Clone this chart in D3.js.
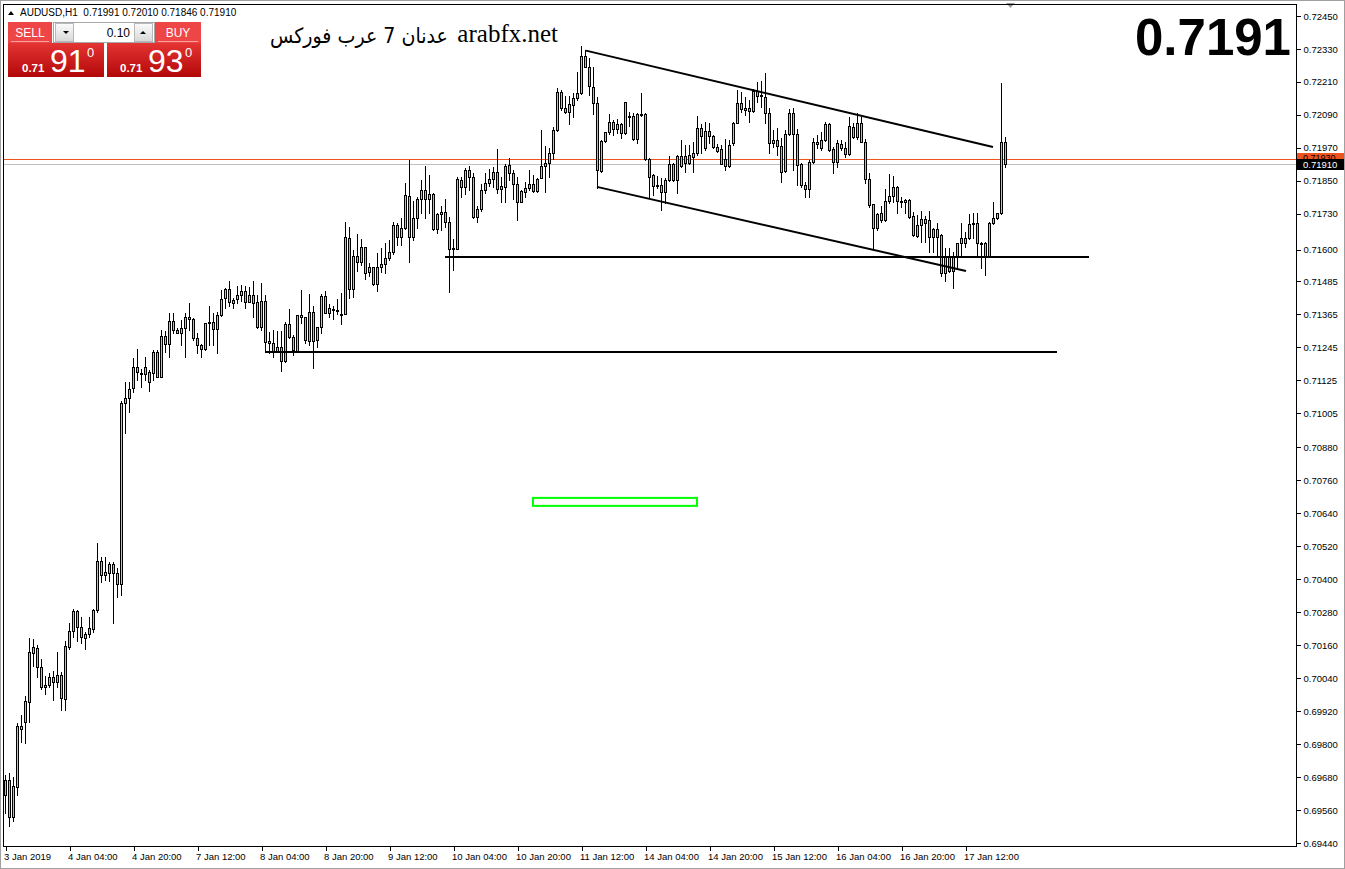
<!DOCTYPE html>
<html><head><meta charset="utf-8">
<script src="https://cdn.jsdelivr.net/npm/d3@7"></script>
<style>body{margin:0;background:#fff;overflow:hidden}svg{display:block}</style>
</head><body><svg id="c" width="1345" height="869"></svg>
<script>
// ---- DATA (AUDUSD H1, bars indexed from 3 Jan 2019 12:00) ----
const opens = [0.69614,0.69669,0.69534,0.69644,0.69855,0.69880,0.69953,0.70131,0.70150,0.70080,
0.70015,0.70015,0.70044,0.70026,0.70051,0.69964,0.70153,0.70211,0.70284,0.70226,
0.70186,0.70200,0.70219,0.70288,0.70466,0.70415,0.70423,0.70455,0.70423,0.70382,
0.71041,0.71060,0.71096,0.71172,0.71151,0.71147,0.71118,0.71151,0.71227,0.71136,
0.71285,0.71256,0.71340,0.71307,0.71296,0.71314,0.71354,0.71347,0.71278,0.71252,
0.71238,0.71333,0.71336,0.71311,0.71362,0.71424,0.71456,0.71405,0.71420,0.71434,
0.71449,0.71409,0.71434,0.71409,0.71318,0.71413,0.71267,0.71260,0.71227,0.71245,
0.71194,0.71329,0.71282,0.71231,0.71354,0.71354,0.71267,0.71373,0.71271,0.71318,
0.71431,0.71369,0.71380,0.71380,0.71365,0.71365,0.71642,0.71456,0.71576,0.71555,
0.71609,0.71518,0.71536,0.71474,0.71536,0.71547,0.71569,0.71591,0.71689,0.71646,
0.71678,0.71795,0.71646,0.71715,0.71784,0.71817,0.71784,0.71802,0.71675,0.71729,
0.71737,0.71700,0.71602,0.71602,0.71853,0.71828,0.71889,0.71864,0.71718,0.71747,
0.71817,0.71842,0.71857,0.71882,0.71820,0.71828,0.71908,0.71879,0.71838,0.71773,
0.71809,0.71824,0.71838,0.71813,0.71860,0.71904,0.71915,0.71951,0.72035,0.72173,
0.72115,0.72101,0.72126,0.72152,0.72170,0.72304,0.72264,0.72192,0.72133,0.71886,
0.71995,0.72028,0.72064,0.72039,0.72057,0.72024,0.72082,0.72086,0.72002,0.72093,
0.72093,0.71929,0.71871,0.71835,0.71835,0.71809,0.71853,0.71911,0.71853,0.71904,
0.71940,0.71915,0.71937,0.71951,0.72042,0.71970,0.72031,0.72013,0.71973,0.71966,
0.71929,0.71904,0.71988,0.72061,0.72133,0.72108,0.72115,0.72104,0.72177,0.72162,
0.72155,0.72097,0.71988,0.71999,0.71977,0.71886,0.72020,0.72097,0.72020,0.71911,
0.71835,0.71820,0.71919,0.71984,0.71970,0.71999,0.72057,0.71966,0.71919,0.71984,
0.71970,0.71948,0.72046,0.72010,0.72060,0.71991,0.71857,0.71766,0.71678,0.71733,
0.71707,0.71777,0.71795,0.71828,0.71777,0.71773,0.71780,0.71722,0.71649,0.71689,
0.71711,0.71707,0.71646,0.71675,0.71653,0.71515,0.71573,0.71522,0.71573,0.71624,
0.71624,0.71642,0.71693,0.71697,0.71624,0.71624,0.71573,0.71697,0.71715,0.71733,
0.71991];
const highs = [0.69687,0.69694,0.69680,0.69877,0.69906,0.69975,0.70186,0.70182,0.70160,0.70109,
0.70048,0.70059,0.70066,0.70135,0.70062,0.70175,0.70241,0.70291,0.70288,0.70262,
0.70208,0.70262,0.70291,0.70532,0.70481,0.70481,0.70463,0.70463,0.70441,0.71049,
0.71118,0.71118,0.71205,0.71238,0.71165,0.71209,0.71161,0.71234,0.71234,0.71307,
0.71303,0.71369,0.71369,0.71314,0.71343,0.71369,0.71405,0.71351,0.71296,0.71256,
0.71333,0.71394,0.71369,0.71373,0.71453,0.71460,0.71485,0.71424,0.71467,0.71471,
0.71467,0.71464,0.71485,0.71434,0.71478,0.71434,0.71300,0.71307,0.71303,0.71303,
0.71336,0.71383,0.71289,0.71362,0.71453,0.71354,0.71438,0.71394,0.71318,0.71438,
0.71449,0.71402,0.71394,0.71420,0.71442,0.71700,0.71682,0.71598,0.71656,0.71638,
0.71609,0.71551,0.71536,0.71587,0.71606,0.71624,0.71635,0.71700,0.71697,0.71715,
0.71842,0.71926,0.71777,0.71791,0.71853,0.71904,0.71871,0.71806,0.71733,0.71758,
0.71784,0.71718,0.71638,0.71864,0.71864,0.71897,0.71904,0.71879,0.71758,0.71838,
0.71879,0.71893,0.71900,0.71966,0.71864,0.71911,0.71933,0.71889,0.71864,0.71817,
0.71846,0.71889,0.71871,0.71860,0.72035,0.71977,0.71970,0.72046,0.72188,0.72181,
0.72159,0.72159,0.72170,0.72246,0.72341,0.72326,0.72297,0.72264,0.72155,0.71999,
0.72028,0.72093,0.72071,0.72075,0.72060,0.72137,0.72101,0.72097,0.72097,0.72170,
0.72097,0.71933,0.71875,0.71868,0.71860,0.71860,0.71940,0.71915,0.71944,0.71999,
0.71980,0.71980,0.71991,0.72086,0.72057,0.72064,0.72060,0.72017,0.71984,0.71980,
0.72002,0.71999,0.72064,0.72181,0.72173,0.72155,0.72144,0.72184,0.72210,0.72213,
0.72243,0.72115,0.72035,0.72042,0.72006,0.72035,0.72111,0.72115,0.72039,0.71915,
0.71846,0.71926,0.72006,0.72017,0.72028,0.72064,0.72060,0.71973,0.71999,0.71999,
0.71991,0.72082,0.72060,0.72097,0.72082,0.72002,0.71879,0.71766,0.71733,0.71758,
0.71820,0.71875,0.71868,0.71831,0.71791,0.71784,0.71784,0.71737,0.71726,0.71740,
0.71722,0.71740,0.71678,0.71697,0.71656,0.71606,0.71606,0.71591,0.71624,0.71697,
0.71664,0.71729,0.71733,0.71733,0.71627,0.71627,0.71700,0.71773,0.71733,0.72206,
0.72010];
const lows = [0.69549,0.69502,0.69520,0.69614,0.69807,0.69804,0.69880,0.70084,0.70044,0.70000,
0.69982,0.70008,0.69960,0.70008,0.69924,0.69924,0.70146,0.70190,0.70175,0.70168,
0.70146,0.70190,0.70208,0.70281,0.70390,0.70397,0.70393,0.70241,0.70335,0.70342,
0.70932,0.71009,0.71081,0.71125,0.71100,0.71125,0.71085,0.71125,0.71136,0.71136,
0.71227,0.71209,0.71296,0.71296,0.71252,0.71209,0.71307,0.71271,0.71223,0.71209,
0.71234,0.71252,0.71252,0.71223,0.71358,0.71387,0.71394,0.71387,0.71405,0.71413,
0.71387,0.71409,0.71354,0.71314,0.71307,0.71227,0.71223,0.71209,0.71227,0.71158,
0.71191,0.71278,0.71216,0.71227,0.71333,0.71260,0.71252,0.71169,0.71245,0.71296,
0.71369,0.71354,0.71347,0.71365,0.71329,0.71365,0.71424,0.71427,0.71522,0.71544,
0.71493,0.71504,0.71471,0.71449,0.71518,0.71515,0.71562,0.71584,0.71616,0.71616,
0.71675,0.71555,0.71635,0.71678,0.71733,0.71715,0.71733,0.71671,0.71660,0.71671,
0.71682,0.71445,0.71525,0.71602,0.71791,0.71802,0.71817,0.71715,0.71700,0.71740,
0.71806,0.71831,0.71828,0.71806,0.71773,0.71773,0.71853,0.71784,0.71707,0.71773,
0.71791,0.71817,0.71809,0.71809,0.71860,0.71809,0.71864,0.71929,0.72031,0.72108,
0.72097,0.72057,0.72082,0.72144,0.72166,0.72264,0.72162,0.72093,0.71824,0.71882,
0.71991,0.72020,0.72017,0.72024,0.72006,0.72020,0.72050,0.71999,0.71988,0.72086,
0.71926,0.71791,0.71798,0.71824,0.71744,0.71769,0.71849,0.71849,0.71806,0.71900,
0.71882,0.71911,0.71882,0.71944,0.71951,0.71962,0.71988,0.71970,0.71955,0.71911,
0.71889,0.71900,0.71980,0.72061,0.72101,0.72090,0.72064,0.72101,0.72137,0.72119,
0.72060,0.71951,0.71973,0.71944,0.71846,0.71882,0.72017,0.71889,0.71835,0.71828,
0.71791,0.71791,0.71915,0.71970,0.71962,0.71995,0.71959,0.71879,0.71900,0.71962,
0.71937,0.71944,0.72006,0.72002,0.71991,0.71842,0.71755,0.71606,0.71671,0.71700,
0.71704,0.71769,0.71773,0.71733,0.71755,0.71733,0.71715,0.71649,0.71646,0.71627,
0.71627,0.71591,0.71591,0.71573,0.71504,0.71485,0.71518,0.71460,0.71536,0.71573,
0.71609,0.71638,0.71642,0.71573,0.71533,0.71507,0.71573,0.71693,0.71711,0.71729,
0.71900];
const closes = [0.69669,0.69534,0.69647,0.69866,0.69866,0.69957,0.70135,0.70153,0.70080,0.70008,
0.70008,0.70044,0.70026,0.70051,0.69968,0.70157,0.70211,0.70284,0.70226,0.70190,
0.70200,0.70222,0.70288,0.70466,0.70415,0.70426,0.70455,0.70423,0.70382,0.71041,
0.71060,0.71092,0.71172,0.71154,0.71147,0.71172,0.71154,0.71227,0.71136,0.71285,
0.71256,0.71340,0.71307,0.71296,0.71314,0.71354,0.71347,0.71278,0.71252,0.71238,
0.71333,0.71336,0.71311,0.71362,0.71420,0.71456,0.71409,0.71416,0.71434,0.71449,
0.71409,0.71434,0.71405,0.71318,0.71413,0.71263,0.71260,0.71227,0.71245,0.71194,
0.71329,0.71282,0.71234,0.71362,0.71362,0.71271,0.71373,0.71267,0.71318,0.71431,
0.71369,0.71387,0.71383,0.71376,0.71362,0.71646,0.71456,0.71576,0.71555,0.71609,
0.71515,0.71536,0.71474,0.71536,0.71547,0.71569,0.71591,0.71689,0.71646,0.71678,
0.71798,0.71646,0.71715,0.71784,0.71817,0.71784,0.71802,0.71675,0.71729,0.71737,
0.71700,0.71602,0.71606,0.71857,0.71828,0.71889,0.71864,0.71718,0.71747,0.71817,
0.71842,0.71857,0.71882,0.71820,0.71831,0.71904,0.71879,0.71838,0.71773,0.71813,
0.71824,0.71838,0.71813,0.71857,0.71904,0.71915,0.71951,0.72035,0.72173,0.72115,
0.72101,0.72130,0.72152,0.72170,0.72304,0.72264,0.72195,0.72133,0.71889,0.71995,
0.72028,0.72064,0.72039,0.72057,0.72024,0.72137,0.72086,0.72002,0.72093,0.72090,
0.71929,0.71864,0.71831,0.71831,0.71809,0.71853,0.71911,0.71853,0.71940,0.71940,
0.71915,0.71944,0.71951,0.72042,0.72013,0.72031,0.72013,0.71973,0.71959,0.71911,
0.71904,0.71980,0.72061,0.72133,0.72111,0.72115,0.72104,0.72177,0.72159,0.72159,
0.72097,0.71988,0.71999,0.71977,0.71882,0.72020,0.72097,0.72020,0.71908,0.71835,
0.71820,0.71919,0.71991,0.71991,0.71999,0.72057,0.71962,0.71919,0.71988,0.71970,
0.71948,0.72050,0.72010,0.72060,0.71991,0.71857,0.71762,0.71678,0.71729,0.71707,
0.71777,0.71795,0.71828,0.71777,0.71773,0.71780,0.71718,0.71653,0.71689,0.71711,
0.71697,0.71646,0.71675,0.71646,0.71515,0.71573,0.71522,0.71573,0.71624,0.71642,
0.71642,0.71693,0.71697,0.71624,0.71620,0.71573,0.71697,0.71715,0.71733,0.71991,
0.71910];

const priceTicks = [0.72450,0.72330,0.72210,0.72090,0.71970,0.71850,0.71730,0.71600,0.71485,0.71365,
0.71245,0.71125,0.71005,0.70880,0.70760,0.70640,0.70520,0.70400,0.70280,0.70160,0.70040,0.69920,
0.69800,0.69680,0.69560,0.69440];
const timeTickBars = [0,16,32,48,64,80,96,112,128,144,160,176,192,208,224,240];
const timeTickLabels = ["3 Jan 2019","4 Jan 04:00","4 Jan 20:00","7 Jan 12:00","8 Jan 04:00","8 Jan 20:00",
"9 Jan 12:00","10 Jan 04:00","10 Jan 20:00","11 Jan 12:00","14 Jan 04:00","14 Jan 20:00","15 Jan 12:00",
"16 Jan 04:00","16 Jan 20:00","17 Jan 12:00"];
// drawn objects: [barFrom, priceFrom, barTo, priceTo]
const supportLines = [[110,0.71573,271,0.71573],[65,0.71226,263,0.71226]];
const channelLines = [[145.25,0.72324,247,0.71973],[148,0.71828,240.25,0.71522]];
const zoneRect = [132,0.70696,173,0.70667];
const askPrice = 0.71930, bidPrice = 0.71910;
const headerText = "AUDUSD,H1  0.71991 0.72010 0.71846 0.71910";

// ---- DRAW ----
const svg = d3.select('#c');
const PL=4, PR=1296, PT=4, PB=846;
const x = d3.scaleLinear().domain([0,250]).range([5,1005]);
const y = d3.scaleLinear().domain([0.69440,0.72450]).range([843,16]);
const BULL='#87CEFA', BEAR='#FFA07A';
const tf = 'Liberation Sans, Arial, sans-serif';

const defs = svg.append('defs');
defs.append('clipPath').attr('id','plot').append('rect').attr('x',PL).attr('y',PT).attr('width',PR-PL).attr('height',PB-PT);
const gr = defs.append('linearGradient').attr('id','redg').attr('x1',0).attr('y1',0).attr('x2',0).attr('y2',1);
gr.append('stop').attr('offset','0%').attr('stop-color','#e43434');
gr.append('stop').attr('offset','100%').attr('stop-color','#b30808');
const gb = defs.append('linearGradient').attr('id','btng').attr('x1',0).attr('y1',0).attr('x2',0).attr('y2',1);
gb.append('stop').attr('offset','0%').attr('stop-color','#fbfbfb');
gb.append('stop').attr('offset','100%').attr('stop-color','#d8d8d8');
defs.append('clipPath').attr('id','askclip').append('rect').attr('x',PR+1).attr('y',0).attr('width',60).attr('height',Math.round(y(bidPrice))-5);

svg.append('rect').attr('width',1345).attr('height',869).attr('fill','#fff');
svg.append('rect').attr('x',0.5).attr('y',0.5).attr('width',1344).attr('height',868).attr('fill','none').attr('stroke','#a0a0a0');
svg.append('path').attr('d','M1006,3 L1015,3 L1010.5,8 Z').attr('fill','#9a9a9a');

const plot = svg.append('g').attr('clip-path','url(#plot)').attr('shape-rendering','crispEdges');
plot.append('line').attr('x1',PL).attr('x2',PR).attr('y1',Math.round(y(bidPrice))+0.5).attr('y2',Math.round(y(bidPrice))+0.5).attr('stroke','#c0c0c0');
plot.append('line').attr('x1',PL).attr('x2',PR).attr('y1',Math.round(y(askPrice))+0.5).attr('y2',Math.round(y(askPrice))+0.5).attr('stroke','#f0541e');

const bars = opens.map((o,i)=>({i,o,h:highs[i],l:lows[i],c:closes[i]}));
const cg = plot.append('g');
cg.selectAll('rect.wick').data(bars).join('rect').attr('class','wick')
  .attr('x',d=>Math.round(x(d.i)))
  .attr('y',d=>Math.round(y(d.h)))
  .attr('width',1)
  .attr('height',d=>Math.round(y(d.l))-Math.round(y(d.h))+1)
  .attr('fill','#000');
cg.selectAll('rect.body').data(bars).join('rect').attr('class','body')
  .attr('x',d=>Math.round(x(d.i))-0.5)
  .attr('y',d=>Math.round(y(Math.max(d.o,d.c)))+0.5)
  .attr('width',2)
  .attr('height',d=>Math.max(1,Math.round(y(Math.min(d.o,d.c)))-Math.round(y(Math.max(d.o,d.c)))))
  .attr('fill',d=>d.c>=d.o?BULL:BEAR)
  .attr('stroke','#000').attr('stroke-width',1);

const lg = svg.append('g').attr('clip-path','url(#plot)');
lg.selectAll('line.sup').data(supportLines).join('line').attr('class','sup')
  .attr('x1',d=>x(d[0])).attr('x2',d=>x(d[2])).attr('y1',d=>Math.round(y(d[1]))).attr('y2',d=>Math.round(y(d[3])))
  .attr('stroke','#000').attr('stroke-width',2).attr('shape-rendering','crispEdges');
lg.selectAll('line.ch').data(channelLines).join('line').attr('class','ch')
  .attr('x1',d=>x(d[0])).attr('x2',d=>x(d[2])).attr('y1',d=>y(d[1])).attr('y2',d=>y(d[3]))
  .attr('stroke','#000').attr('stroke-width',2);
lg.append('rect').attr('x',x(zoneRect[0])).attr('y',y(zoneRect[1])).attr('width',x(zoneRect[2])-x(zoneRect[0]))
  .attr('height',y(zoneRect[3])-y(zoneRect[1])).attr('fill','none').attr('stroke','#00ff00').attr('stroke-width',2);

svg.append('rect').attr('x',PL-0.5).attr('y',PT+0.5).attr('width',PR-PL+1).attr('height',PB-PT)
  .attr('fill','none').attr('stroke','#000').attr('shape-rendering','crispEdges');

const ya = svg.append('g').attr('transform',`translate(${PR+0.5},0)`)
  .call(d3.axisRight(y).tickValues(priceTicks).tickFormat(d3.format('.5f')).tickSize(4).tickPadding(3));
ya.select('.domain').remove();
ya.selectAll('line').attr('stroke','#000').attr('shape-rendering','crispEdges');
ya.selectAll('text').attr('font-family',tf).attr('font-size','9.5px').attr('fill','#000');

const xa = svg.append('g').attr('transform',`translate(0.5,${PB+0.5})`)
  .call(d3.axisBottom(x).tickValues(timeTickBars).tickFormat((d,i)=>timeTickLabels[i]).tickSize(4).tickPadding(3));
xa.select('.domain').remove();
xa.selectAll('line').attr('stroke','#000').attr('shape-rendering','crispEdges');
xa.selectAll('text').attr('text-anchor','start').attr('dx','-2')
  .attr('font-family',tf).attr('font-size','9.5px').attr('fill','#000');

// bid/ask labels (ask label partly covered by bid label, as in the terminal)
const askY = Math.round(y(askPrice)), bidY = Math.round(y(bidPrice));
svg.append('rect').attr('x',PR+1).attr('y',askY-6).attr('width',47).attr('height',11).attr('fill','#f0541e');
svg.append('text').attr('x',PR+7).attr('y',askY+2).attr('clip-path','url(#askclip)').text(askPrice.toFixed(5))
  .attr('font-family',tf).attr('font-size','9px').attr('fill','#000');
svg.append('rect').attr('x',PR+1).attr('y',bidY-5).attr('width',47).attr('height',11).attr('fill','#000');
svg.append('text').attr('x',PR+7).attr('y',bidY+4).text(bidPrice.toFixed(5))
  .attr('font-family',tf).attr('font-size','9.5px').attr('fill','#fff');

svg.append('path').attr('d','M8,15 L14,15 L11,11 Z').attr('fill','#000');
svg.append('text').attr('x',20).attr('y',15.5).text(headerText).attr('xml:space','preserve')
  .attr('font-family',tf).attr('font-size','10px').attr('fill','#000');

svg.append('text').attr('x',1291).attr('y',55).attr('text-anchor','end').text(bidPrice.toFixed(4))
  .attr('font-family',tf).attr('font-weight','bold').attr('font-size','51px').attr('fill','#000');

svg.append('text').attr('x',558).attr('y',42).attr('text-anchor','end').text('arabfx.net')
  .attr('font-family','Liberation Serif, Times New Roman, serif').attr('font-size','25px').attr('fill','#000');
svg.append('text').attr('x',270).attr('y',43).text('عدنان 7 عرب فوركس')
  .attr('textLength',178).attr('lengthAdjust','spacingAndGlyphs')
  .attr('font-family','DejaVu Sans, sans-serif').attr('font-size','21px').attr('fill','#000');

const tp = svg.append('g');
tp.append('rect').attr('x',8).attr('y',43).attr('width',96).attr('height',34).attr('fill','url(#redg)');
tp.append('rect').attr('x',107).attr('y',43).attr('width',94).attr('height',34).attr('fill','url(#redg)');
tp.append('rect').attr('x',8).attr('y',22).attr('width',44).attr('height',21).attr('fill','#ee4646');
tp.append('rect').attr('x',155).attr('y',22).attr('width',46).attr('height',21).attr('fill','#ee4646');
tp.append('line').attr('x1',11).attr('x2',49).attr('y1',41.5).attr('y2',41.5).attr('stroke','#f7a0a0');
tp.append('line').attr('x1',158).attr('x2',198).attr('y1',41.5).attr('y2',41.5).attr('stroke','#f7a0a0');
tp.append('rect').attr('x',53.5).attr('y',22.5).attr('width',101).attr('height',20).attr('fill','#fff').attr('stroke','#a8a8a8');
tp.append('rect').attr('x',55.5).attr('y',23.5).attr('width',18).attr('height',18).attr('fill','url(#btng)').attr('stroke','#b8b8b8');
tp.append('rect').attr('x',134.5).attr('y',23.5).attr('width',18).attr('height',18).attr('fill','url(#btng)').attr('stroke','#b8b8b8');
tp.append('path').attr('d','M63,31 L69,31 L66,34 Z').attr('fill','#000');
tp.append('path').attr('d','M140,34 L146,34 L143,31 Z').attr('fill','#000');
tp.append('text').attr('x',130).attr('y',37).attr('text-anchor','end').text('0.10').attr('font-family',tf).attr('font-size','12px');
tp.append('text').attr('x',30).attr('y',37).attr('text-anchor','middle').text('SELL').attr('font-family',tf).attr('font-size','12px').attr('fill','#fff');
tp.append('text').attr('x',178).attr('y',37).attr('text-anchor','middle').text('BUY').attr('font-family',tf).attr('font-size','12px').attr('fill','#fff');
[[22,'91'],[120,'93']].forEach(([bx,big])=>{
  tp.append('text').attr('x',bx).attr('y',72).text('0.71').attr('font-family',tf).attr('font-weight','bold').attr('font-size','11.5px').attr('fill','#fff');
  tp.append('text').attr('x',bx+28).attr('y',72).text(big).attr('font-family',tf).attr('font-size','32px').attr('fill','#fff');
  tp.append('text').attr('x',bx+65).attr('y',57).text('0').attr('font-family',tf).attr('font-size','13px').attr('fill','#fff');
});
</script></body></html>
